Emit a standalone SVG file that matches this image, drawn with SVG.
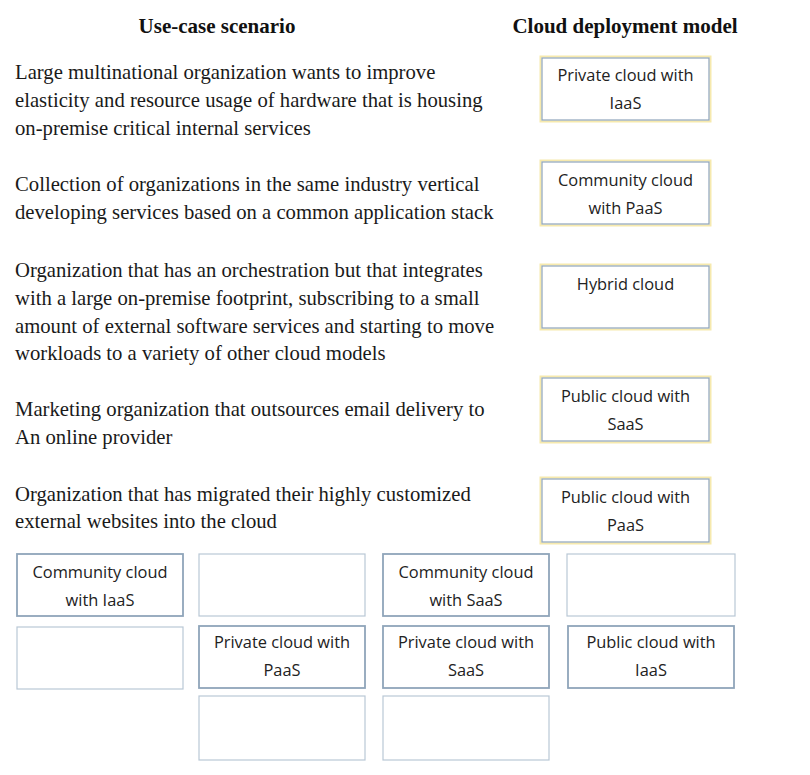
<svg xmlns="http://www.w3.org/2000/svg" width="810" height="775" viewBox="0 0 810 775">
<style>
.h{font-family:"Liberation Serif",serif;font-weight:bold;font-size:21px;fill:#111;text-anchor:middle}
.s{font-family:"Liberation Serif",serif;font-size:20.7px;fill:#1a1a1a}
.b{font-family:"Open Sans",sans-serif;font-size:16.4px;fill:#222;text-anchor:middle}
.ans{fill:#fff;stroke:#8ea4bb;stroke-width:1.2}
.glow{fill:none;stroke:#f6e9ad;stroke-width:2}
.opt{fill:#fff;stroke:#8fa5ba;stroke-width:1.8}
.emp{fill:#fff;stroke:#b9c8d6;stroke-width:1.2}
</style>
<rect width="810" height="775" fill="#fff"/>
<text class="h" x="217" y="33">Use-case scenario</text>
<text class="h" x="625" y="33">Cloud deployment model</text>
<g id="scenarios">
<text class="s" x="15" y="79">Large multinational organization wants to improve</text>
<text class="s" x="15" y="107">elasticity and resource usage of hardware that is housing</text>
<text class="s" x="15" y="135">on-premise critical internal services</text>
<text class="s" x="15" y="191">Collection of organizations in the same industry vertical</text>
<text class="s" x="15" y="219">developing services based on a common application stack</text>
<text class="s" x="15" y="277">Organization that has an orchestration but that integrates</text>
<text class="s" x="15" y="305">with a large on-premise footprint, subscribing to a small</text>
<text class="s" x="15" y="333">amount of external software services and starting to move</text>
<text class="s" x="15" y="360">workloads to a variety of other cloud models</text>
<text class="s" x="15" y="416">Marketing organization that outsources email delivery to</text>
<text class="s" x="15" y="444">An online provider</text>
<text class="s" x="15" y="501">Organization that has migrated their highly customized</text>
<text class="s" x="15" y="528">external websites into the cloud</text>
</g>
<g id="answer1"><rect class="glow" x="540.5" y="56.5" width="170" height="65"/><rect class="ans" x="542" y="58" width="167" height="62"/><text class="b" x="625.5" y="81">Private cloud with</text><text class="b" x="625.5" y="109">IaaS</text></g>
<g id="answer2"><rect class="glow" x="540.5" y="160.5" width="170" height="65"/><rect class="ans" x="542" y="162" width="167" height="62"/><text class="b" x="625.5" y="186">Community cloud</text><text class="b" x="625.5" y="214">with PaaS</text></g>
<g id="answer3"><rect class="glow" x="540.5" y="264.5" width="170" height="65"/><rect class="ans" x="542" y="266" width="167" height="62"/><text class="b" x="625.5" y="290">Hybrid cloud</text></g>
<g id="answer4"><rect class="glow" x="540.5" y="376.5" width="170" height="66"/><rect class="ans" x="542" y="378" width="167" height="63"/><text class="b" x="625.5" y="402">Public cloud with</text><text class="b" x="625.5" y="430">SaaS</text></g>
<g id="answer5"><rect class="glow" x="540.5" y="477.5" width="170" height="66"/><rect class="ans" x="542" y="479" width="167" height="63"/><text class="b" x="625.5" y="503">Public cloud with</text><text class="b" x="625.5" y="531">PaaS</text></g>
<g id="opt-community-iaas"><rect class="opt" x="17" y="554" width="166" height="62"/><text class="b" x="100" y="578">Community cloud</text><text class="b" x="100" y="606">with IaaS</text></g>
<g id="empty-r1c2"><rect class="emp" x="199" y="554" width="166" height="62"/></g>
<g id="opt-community-saas"><rect class="opt" x="383" y="554" width="166" height="62"/><text class="b" x="466" y="578">Community cloud</text><text class="b" x="466" y="606">with SaaS</text></g>
<g id="empty-r1c4"><rect class="emp" x="567" y="554" width="168" height="62"/></g>
<g id="empty-r2c1"><rect class="emp" x="17" y="627" width="166" height="62"/></g>
<g id="opt-private-paas"><rect class="opt" x="199" y="626" width="166" height="62"/><text class="b" x="282" y="648">Private cloud with</text><text class="b" x="282" y="676">PaaS</text></g>
<g id="opt-private-saas"><rect class="opt" x="383" y="626" width="166" height="62"/><text class="b" x="466" y="648">Private cloud with</text><text class="b" x="466" y="676">SaaS</text></g>
<g id="opt-public-iaas"><rect class="opt" x="568" y="626" width="166" height="62"/><text class="b" x="651" y="648">Public cloud with</text><text class="b" x="651" y="676">IaaS</text></g>
<g id="empty-r3c2"><rect class="emp" x="199" y="696" width="166" height="64"/></g>
<g id="empty-r3c3"><rect class="emp" x="383" y="696" width="166" height="64"/></g>
<g id="connectors"></g>
</svg>
